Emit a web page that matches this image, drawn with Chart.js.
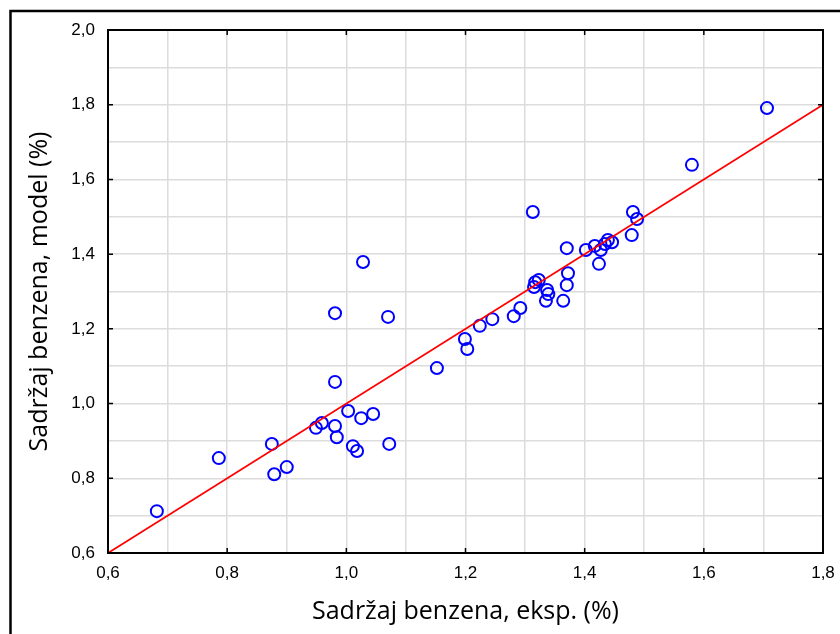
<!DOCTYPE html>
<html>
<head>
<meta charset="utf-8">
<script src="https://cdn.jsdelivr.net/npm/chart.js@4/dist/chart.umd.min.js"></script>
<style>
  html, body { margin: 0; padding: 0; background: #fff; }
  #wrap { position: relative; width: 840px; height: 634px; overflow: hidden; }
</style>
</head>
<body>
<div id="wrap"><canvas id="myChart" width="840" height="634"></canvas></div>
<script>
// experimental vs model benzene content
const expX = [0.682, 0.786, 0.875, 0.879, 0.900, 0.949, 0.959, 0.981, 0.981, 0.981,
    0.984, 1.003, 1.011, 1.018, 1.025, 1.028, 1.045, 1.070, 1.072, 1.152,
    1.199, 1.203, 1.224, 1.245, 1.281, 1.292, 1.313, 1.315, 1.317, 1.323,
    1.337, 1.339, 1.335, 1.364, 1.370, 1.370, 1.372, 1.402, 1.417, 1.424,
    1.427, 1.434, 1.439, 1.446, 1.479, 1.481, 1.488, 1.580, 1.706];
const modelY = [0.712, 0.854, 0.892, 0.811, 0.830, 0.935, 0.948, 1.242, 1.058, 0.940,
    0.910, 0.980, 0.886, 0.873, 0.961, 1.379, 0.972, 1.232, 0.892, 1.095,
    1.173, 1.146, 1.208, 1.226, 1.234, 1.256, 1.513, 1.312, 1.325, 1.331,
    1.304, 1.293, 1.275, 1.275, 1.416, 1.317, 1.349, 1.411, 1.422, 1.374,
    1.411, 1.427, 1.438, 1.432, 1.451, 1.513, 1.494, 1.639, 1.791];

// y = x reference line
const lineX = [0.6, 1.8];
const lineY = [0.6, 1.8];

const xTitle = 'Sadržaj benzena, eksp. (%)';
const yTitle = 'Sadržaj benzena, model (%)';

const tickFont = { family: '"Liberation Sans", Arial, sans-serif', size: 17 };
const titleFont = { family: '"Open Sans", sans-serif', size: 25 };

function fmt(v) {
    const k = Math.round(v * 10);
    if (k % 2 !== 0) return '';
    return (k / 10).toFixed(1).replace('.', ',');
}

// frame, inward major ticks and outer border
const framePlugin = {
    id: 'frame',
    afterDraw(chart) {
        const { ctx, chartArea: a, scales } = chart;
        ctx.save();
        ctx.strokeStyle = '#000';
        ctx.lineWidth = 2;
        ctx.strokeRect(a.left, a.top, a.right - a.left, a.bottom - a.top);
        ctx.lineWidth = 1.5;
        ctx.beginPath();
        for (let k = 6; k <= 18; k += 2) {
            const px = scales.x.getPixelForValue(k / 10);
            ctx.moveTo(px, a.bottom); ctx.lineTo(px, a.bottom - 5);
            ctx.moveTo(px, a.top); ctx.lineTo(px, a.top + 5);
        }
        for (let k = 6; k <= 20; k += 2) {
            const py = scales.y.getPixelForValue(k / 10);
            ctx.moveTo(a.left, py); ctx.lineTo(a.left + 5, py);
            ctx.moveTo(a.right, py); ctx.lineTo(a.right - 5, py);
        }
        ctx.stroke();
        // outer picture frame
        ctx.lineWidth = 2.5;
        ctx.beginPath();
        ctx.moveTo(10.5, 634); ctx.lineTo(10.5, 11); ctx.lineTo(840, 11);
        ctx.stroke();
        ctx.restore();
    }
};

let ctx = document.getElementById('myChart').getContext('2d');

new Chart(ctx, {
    type: 'scatter',
    data: {
        datasets: [
            {
                type: 'line',
                data: lineX.map((x, i) => ({ x: x, y: lineY[i] })),
                borderColor: '#ff0000',
                borderWidth: 1.8,
                pointRadius: 0,
                fill: false,
                order: 0,
            },
            {
                data: expX.map((x, i) => ({ x: x, y: modelY[i] })),
                pointStyle: 'circle',
                pointRadius: 6,
                pointBorderWidth: 2,
                pointBorderColor: '#0000ff',
                pointBackgroundColor: 'rgba(0,0,0,0)',
                order: 1,
            },
        ],
    },
    options: {
        responsive: false,
        animation: false,
        layout: { padding: { top: 30, right: 17, left: 0, bottom: 0 } },
        plugins: {
            legend: { display: false },
            tooltip: { enabled: false },
        },
        scales: {
            x: {
                type: 'linear',
                min: 0.6,
                max: 1.8,
                afterFit: (s) => { s.height = 81; s.paddingLeft = 0; s.paddingRight = 0; },
                grid: { color: '#dcdcdc', lineWidth: 1.5, drawTicks: false },
                border: { display: false },
                ticks: {
                    stepSize: 0.1,
                    autoSkip: false,
                    maxRotation: 0,
                    padding: 10,
                    color: '#000',
                    font: tickFont,
                    callback: (v) => fmt(v),
                },
                title: {
                    display: true,
                    text: xTitle,
                    color: '#000',
                    font: titleFont,
                    padding: { top: 0, bottom: 7 },
                },
            },
            y: {
                type: 'linear',
                min: 0.6,
                max: 2.0,
                afterFit: (s) => { s.width = 108; s.paddingTop = 0; s.paddingBottom = 0; },
                grid: { color: '#dcdcdc', lineWidth: 1.5, drawTicks: false },
                border: { display: false },
                ticks: {
                    stepSize: 0.1,
                    autoSkip: false,
                    padding: 13,
                    color: '#000',
                    font: tickFont,
                    callback: (v) => fmt(v),
                },
                title: {
                    display: true,
                    text: yTitle,
                    color: '#000',
                    font: titleFont,
                    padding: { top: 25, bottom: 0 },
                },
            },
        },
    },
    plugins: [framePlugin],
});
</script>
</body>
</html>
